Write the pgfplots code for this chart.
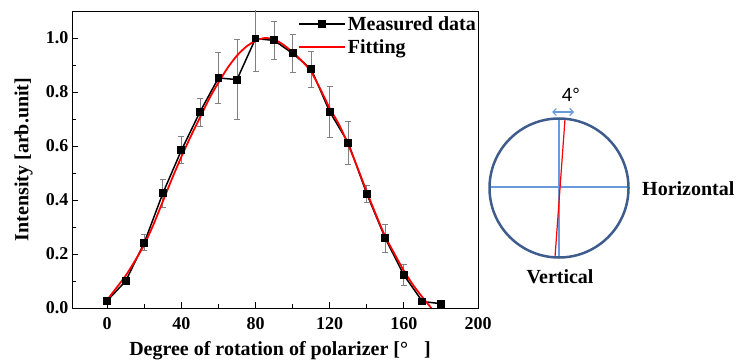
\documentclass[border=0pt]{standalone}
\usepackage{pgfplots}
\pgfplotsset{compat=1.18}
\usepackage{pgfplotstable}
\usepackage{fontspec}
\setmainfont{Liberation Serif}
\newfontfamily\arialfont{Liberation Sans}
\usetikzlibrary{arrows.meta}
\definecolor{circblue}{RGB}{62,92,140}
\definecolor{lightblue}{RGB}{105,155,220}
\pgfplotstableread{
x y e
0 0.027 0.008
10 0.100 0.012
20 0.242 0.030
30 0.425 0.052
40 0.584 0.050
50 0.726 0.052
60 0.852 0.095
70 0.846 0.148
80 0.998 0.120
90 0.991 0.072
100 0.943 0.072
110 0.885 0.067
120 0.727 0.094
130 0.612 0.080
140 0.423 0.031
150 0.258 0.052
160 0.122 0.040
170 0.024 0.006
180 0.016 0.000
}\measured
\pgfplotstableread{
x y
0 0.030
5 0.075
10 0.120
15 0.175
20 0.235
25 0.310
30 0.395
35 0.480
40 0.560
45 0.635
50 0.705
55 0.775
60 0.835
65 0.890
70 0.935
75 0.968
80 0.990
85 1.000
90 0.995
95 0.975
100 0.948
105 0.915
110 0.875
115 0.810
120 0.740
125 0.680
130 0.605
135 0.520
140 0.430
145 0.345
150 0.264
155 0.200
160 0.138
165 0.085
170 0.040
175 -0.002
178 -0.030
}\fitting
\begin{document}
\begin{tikzpicture}
\useasboundingbox (0,0) rectangle (747pt,364pt);
\begin{axis}[
  at={(72pt,56pt)}, anchor=south west, scale only axis,
  width=406pt, height=297pt,
  xmin=-19, xmax=200, ymin=0, ymax=1.1,
  xtick={0,40,80,120,160,200}, minor x tick num=1,
  ytick={0,0.2,0.4,0.6,0.8,1.0}, minor y tick num=1,
  tick pos=left, tick align=inside,
  major tick length=6pt, minor tick length=3.5pt,
  every tick/.style={black, line width=0.8pt},
  axis line style={line width=0.8pt},
  /pgf/number format/assume math mode=true,
  xticklabel={\pgfmathprintnumber{\tick}},
  yticklabel={\pgfmathprintnumber[fixed,fixed zerofill,precision=1]{\tick}},
  ticklabel style={font=\bfseries\fontsize{18}{20}\selectfont},
  xticklabel style={anchor=base, yshift=-22pt},
  xlabel={Degree of rotation of polarizer [°\hspace{0.8em}]},
  ylabel={Intensity [arb.unit]},
  label style={font=\bfseries\fontsize{20}{22}\selectfont},
  xlabel style={at={(axis description cs:0.5,0)}, anchor=base, yshift=-48pt, xshift=5pt},
  ylabel style={at={(axis description cs:0,0.5)}, anchor=center, yshift=48.5pt},
  legend style={at={(1,1)}, anchor=north east, draw=none, fill=none,
    font=\bfseries\fontsize{20}{22}\selectfont, inner sep=1pt,
    row sep=4pt, xshift=1pt, yshift=-2pt},
  legend cell align=left,
  legend image code/.code={\draw[mark repeat=2,mark phase=2,#1] plot coordinates {(0pt,0pt) (23pt,0pt) (46pt,0pt)};},
]
\addplot[black, line width=1.5pt, mark=square*, mark size=3.2pt, mark options={solid},
  error bars/.cd, y dir=both, y explicit,
  error bar style={gray, line width=0.8pt},
  error mark options={gray, rotate=90, mark size=3pt, line width=0.8pt}]
  table[x=x, y=y, y error=e] {\measured};
\addlegendentry{Measured data}
\addplot[red, line width=1.8pt, smooth, tension=0.4] table[x=x, y=y] {\fitting};
\addlegendentry{Fitting}
\end{axis}
\begin{axis}[
  at={(0pt,0pt)}, anchor=south west, scale only axis,
  width=747pt, height=364pt,
  xmin=0, xmax=747, ymin=0, ymax=364, y dir=reverse,
  hide axis, clip=false,
]
\addplot[lightblue, line width=1.2pt] coordinates {(490,187) (629,187)};
\addplot[lightblue, line width=1.2pt] coordinates {(559,119) (559,257)};
\addplot[red, line width=1.2pt] coordinates {(565,119) (555,257)};
\draw[circblue, line width=2.5pt] (axis cs:559,188) circle[radius=69.5];
\draw[lightblue, line width=1.1pt, {Straight Barb[length=3.5pt,width=7pt]}-{Straight Barb[length=3.5pt,width=7pt]}] (axis cs:552,112) -- (axis cs:574,112);
\node[font=\arialfont\fontsize{19}{20}\selectfont] at (axis cs:571,95) {4°};
\node[font=\bfseries\fontsize{20}{22}\selectfont, anchor=west, inner sep=0pt] at (axis cs:642,189) {Horizontal};
\node[font=\bfseries\fontsize{20}{22}\selectfont, inner sep=0pt] at (axis cs:560,277) {Vertical};
\end{axis}
\end{tikzpicture}
\end{document}
